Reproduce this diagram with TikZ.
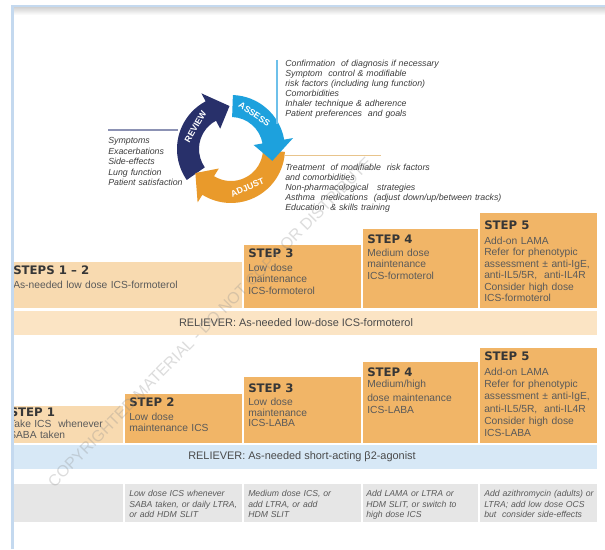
\documentclass[tikz,border=0pt]{standalone}
\usepackage{fontspec}
\setmainfont{Liberation Sans}
\newfontfamily\headfont{DejaVu Sans}
\usetikzlibrary{calc}
\definecolor{navy}{HTML}{28306A}
\definecolor{skyb}{HTML}{1DA1DD}
\definecolor{orng}{HTML}{E99A2B}
\definecolor{boxdark}{HTML}{F1B567}
\definecolor{boxlight}{HTML}{F8DAB0}
\definecolor{relorange}{HTML}{FBE4C4}
\definecolor{relblue}{HTML}{D7E8F6}
\definecolor{cellgray}{HTML}{E6E6E6}
\definecolor{framebl}{HTML}{C4D9EF}
\definecolor{txtgray}{HTML}{5A5A5A}
\definecolor{headgray}{HTML}{363636}
\definecolor{listgray}{HTML}{3C3C3C}
\definecolor{revline}{HTML}{8C92B4}
\definecolor{assline}{HTML}{6EC0EA}
\definecolor{adjline}{HTML}{E8C48C}
\begin{document}
\begin{tikzpicture}[x=0.75pt,y=-0.75pt,
  head/.style={anchor=base west, inner sep=0, font=\headfont\bfseries\fontsize{8.8}{10}\selectfont, text=headgray},
  body/.style={anchor=base west, inner sep=0, text width=110pt, align=left, font=\fontsize{7.7}{8.55}\selectfont, text=txtgray},
  clist/.style={anchor=base west, inner sep=0, text width=200pt, align=left, text=listgray},
  cell/.style={anchor=base west, inner sep=0, text width=100pt, align=left, font=\itshape\fontsize{6.5}{7.9}\selectfont, text=txtgray},
  rel/.style={inner sep=0, font=\fontsize{8.2}{10}\selectfont, text=headgray!90},
  ringtxt/.style={inner sep=0, text=white, font=\bfseries\fontsize{6.6}{7}\selectfont},
  dbox/.style={fill=boxdark},
  lbox/.style={fill=boxlight}
]
\useasboundingbox (0,0) rectangle (605,549);
\fill[white] (0,0) rectangle (605,549);

% ---------------- cycle ----------------
\begin{scope}[shift={(231,149)}]
  \fill[navy] (-215:54) arc[start angle=-215,end angle=-118,radius=54] -- (-118:63) -- (-92:43) -- (-118:23) -- (-118:32) arc[start angle=-118,end angle=-215,radius=32] -- cycle;
  \fill[orng] (3:54) arc[start angle=3,end angle=122,radius=54] -- (122:63) -- (146:43) -- (122:23) -- (122:32) arc[start angle=122,end angle=3,radius=32] -- cycle;
  \fill[skyb] (-88:54) arc[start angle=-88,end angle=-10,radius=54] -- (-10:63) -- (16:43) -- (-10:23) -- (-10:32) arc[start angle=-10,end angle=-88,radius=32] -- cycle;
  \node[ringtxt, rotate=60] (review) at (-148:42) {REVIEW};
  \node[ringtxt, rotate=-34] (assess) at (-56:42) {ASSESS};
  \node[ringtxt, rotate=23] (adjust) at (67:42) {ADJUST};
\end{scope}

\coordinate (rl1) at (108,130); \coordinate (rl2) at (178,130);
\draw[revline, line width=1] (rl1) -- (rl2);
\coordinate (al1) at (277,60); \coordinate (al2) at (277,124);
\draw[assline, line width=1] (al1) -- (al2);
\coordinate (jl1) at (284,155.5); \coordinate (jl2) at (381,155.5);
\draw[adjline, line width=1] (jl1) -- (jl2);

\node[clist, font=\itshape\fontsize{6.6}{7.95}\selectfont] (revlist) at (108,143.5)
  {Symptoms\\Exacerbations\\Side-effects\\Lung function\\Patient satisfaction};
\node[clist, font=\itshape\fontsize{6.6}{7.5}\selectfont] (asslist) at (285,67)
  {Confirmation\ \ of diagnosis if necessary\\Symptom\ \ control \& modifiable\\risk factors (including lung function)\\Comorbidities\\Inhaler technique \& adherence\\Patient preferences\ \ and goals};
\node[clist, font=\itshape\fontsize{6.6}{7.65}\selectfont] (adjlist) at (285,170)
  {Treatment\ \ of modifiable\ \ risk factors\\and comorbidities\\Non-pharmacological\ \ \ strategies\\Asthma\ \ medications\ \ (adjust down/up/between tracks)\\Education\ \ \& skills training};

% ---------------- track 1 ----------------
\fill[lbox] (12,262) rectangle (242,308);
\fill[dbox] (244,245) rectangle (361,308);
\fill[dbox] (363,229) rectangle (478,308);
\fill[dbox] (480,213) rectangle (597,308);
\fill[relorange] (12,311) rectangle (597,335);

\node[head] (h12) at (13,274) {STEPS 1 – 2};
\node[body, text width=200pt] (b12) at (13,288.5) {As-needed low dose ICS-formoterol};
\node[head] (h3a) at (248,257) {STEP 3};
\node[body] (b3a) at (248,271.5) {Low dose\\maintenance\\ICS-formoterol};
\node[head] (h4a) at (367,243) {STEP 4};
\node[body] (b4a) at (367,256.5) {Medium dose\\maintenance\\ICS-formoterol};
\node[head] (h5a) at (484,229) {STEP 5};
\node[body] (b5a) at (484,244.5) {Add-on LAMA\\Refer for phenotypic\\assessment ± anti-IgE,\\anti-IL5/5R,\ \ anti-IL4R\\Consider high dose\\ICS-formoterol};
\node[rel] (rel1) at (296,323) {RELIEVER: As-needed low-dose ICS-formoterol};

% ---------------- track 2 ----------------
\fill[lbox] (12,406) rectangle (123,443);
\fill[dbox] (125,394) rectangle (242,443);
\fill[dbox] (244,377) rectangle (361,443);
\fill[dbox] (363,362) rectangle (478,443);
\fill[dbox] (480,348) rectangle (597,443);
\fill[relblue] (12,445) rectangle (597,469);

\begin{scope}
  \clip (13,395) rectangle (123,443);
  \node[head] (h1b) at (9.5,416) {STEP 1};
  \node[body, font=\fontsize{7.7}{8.25}\selectfont] (b1b) at (9,427.5) {Take ICS\ \ whenever\\SABA taken};
\end{scope}
\node[head] (h2b) at (129,406) {STEP 2};
\node[body, font=\fontsize{7.7}{8.25}\selectfont] (b2b) at (129,420.5) {Low dose\\maintenance ICS};
\node[head] (h3b) at (248,392) {STEP 3};
\node[body, font=\fontsize{7.7}{7.9}\selectfont] (b3b) at (248,405.5) {Low dose\\maintenance\\ICS-LABA};
\node[head] (h4b) at (367,376) {STEP 4};
\node[body, font=\fontsize{7.7}{9}\selectfont] (b4b) at (367,387.5) {Medium/high\\[1.5pt]dose maintenance\\ICS-LABA};
\node[head] (h5b) at (484,360) {STEP 5};
\node[body, font=\fontsize{7.7}{9.15}\selectfont] (b5b) at (484,375.5) {Add-on LAMA\\Refer for phenotypic\\assessment ± anti-IgE,\\anti-IL5/5R,\ \ anti-IL4R\\Consider high dose\\ICS-LABA};
\node[rel] (rel2) at (302,457) {RELIEVER: As-needed short-acting β2-agonist};

% ---------------- other options row ----------------
\fill[cellgray] (12,484) rectangle (597,522);
\foreach \xx in {124,243,362,479} \draw[white, line width=1] (\xx,484) -- (\xx,522);
\node[cell] (c1) at (129,496.5) {Low dose ICS whenever\\SABA taken, or daily LTRA,\\or add HDM SLIT};
\node[cell] (c2) at (248,496.5) {Medium dose ICS, or\\add LTRA, or add\\HDM SLIT};
\node[cell] (c3) at (366,496.5) {Add LAMA or LTRA or\\HDM SLIT, or switch to\\high dose ICS};
\node[cell] (c4) at (484,496.5) {Add azithromycin (adults) or\\LTRA; add low dose OCS\\but\ \ consider side-effects};

% ---------------- watermark ----------------
\node[rotate=45.5, text=black!45, text opacity=0.3, font=\fontsize{12}{12}\selectfont, inner sep=0] (wm) at (210,322) {COPYRIGHTED MATERIAL - DO NOT COPY OR DISTRIBUTE};

% ---------------- frame ----------------
\shade[top color=black!18, bottom color=white] (13,7) rectangle (605,15);
\draw[framebl, line width=2] (12.5,549) -- (12.5,6) -- (605,6);
\end{tikzpicture}
\end{document}
